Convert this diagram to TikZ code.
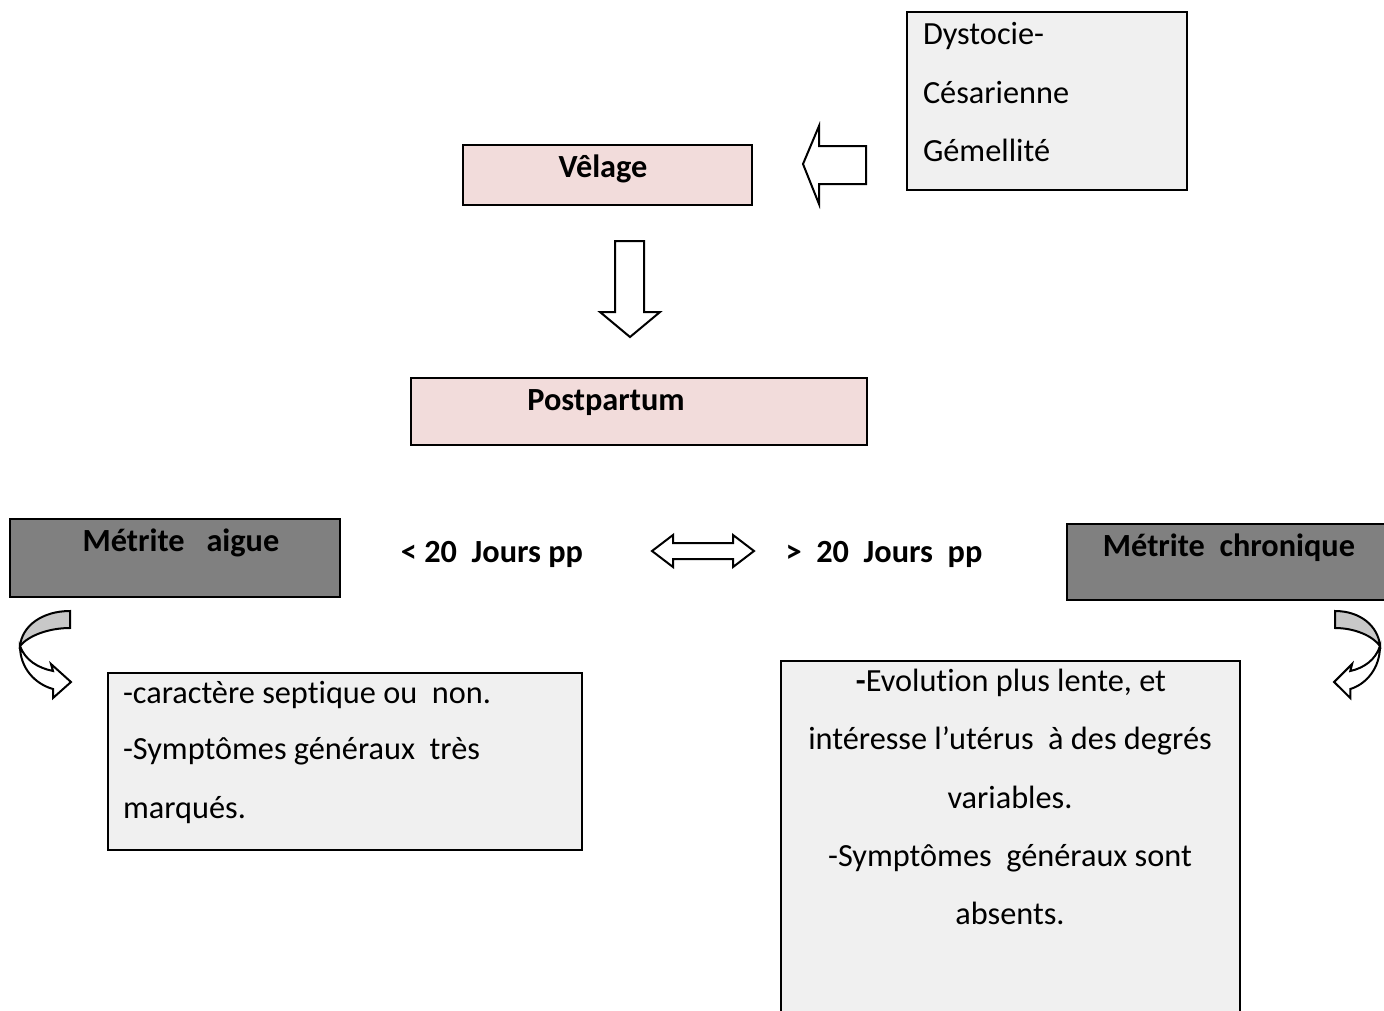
\documentclass[tikz,border=0pt]{standalone}
\usepackage{fontspec}
\setmainfont[Ligatures=NoCommon]{Carlito}
\definecolor{pinkfill}{HTML}{F2DCDB}
\definecolor{darkfill}{HTML}{808080}
\definecolor{lightfill}{HTML}{F0F0F0}
\definecolor{bandgray}{HTML}{C8C8C8}
\begin{document}
\begin{tikzpicture}[x=1pt,y=-1pt,
  every node/.style={font=\fontsize{32.3}{38}\selectfont, inner sep=0pt, outer sep=0pt},
  box/.style={draw=black, line width=2.4pt, anchor=north west},
  pinkbox/.style={box, fill=pinkfill},
  darkbox/.style={box, fill=darkfill},
  lightbox/.style={box, fill=lightfill},
  blockarrow/.style={draw=black, line width=2pt, fill=white, line join=miter},
  boldtxt/.style={font=\fontsize{32.3}{38}\selectfont\bfseries, anchor=base},
  lefttxt/.style={anchor=base west},
  ctrtxt/.style={anchor=base}]
\clip (0,0) rectangle (1384,1010);
\fill[white] (0,0) rectangle (1384,1010);

% boxes
\node[lightbox, minimum width=280, minimum height=178] (causes) at (907,12) {};
\node[pinkbox, minimum width=289, minimum height=60] (velage) at (463,145) {};
\node[pinkbox, minimum width=456, minimum height=67] (postpartum) at (411,378) {};
\node[darkbox, minimum width=330, minimum height=78] (aigue) at (10,519) {};
\node[darkbox, minimum width=340, minimum height=76] (chronique) at (1067,524) {};
\node[lightbox, minimum width=474, minimum height=177] (aiguetxt) at (108,673) {};
\node[lightbox, minimum width=459, minimum height=420] (chrontxt) at (781,661) {};

% texts
\node[lefttxt] (t1) at (923,44) {Dystocie-};
\node[lefttxt] (t2) at (923,103) {Césarienne};
\node[lefttxt] (t3) at (923,161) {Gémellité};
\node[boldtxt] (t4) at (603,177) {Vêlage};
\node[boldtxt] (t5) at (606,410) {Postpartum};
\node[boldtxt] (t6) at (181,551) {Métrite\ \ \ aigue};
\node[boldtxt] (t7) at (1229,556) {Métrite\ \ chronique};
\node[boldtxt] (t8) at (492,562) {<\ 20\ \ Jours pp};
\node[boldtxt] (t9) at (884,562) {>\ \ 20\ \ Jours\ \ pp};
\node[lefttxt] (t10) at (123,703) {-caractère septique ou\ \ non.};
\node[lefttxt] (t11) at (123,759) {-Symptômes généraux\ \ très};
\node[lefttxt] (t12) at (123,818) {marqués.};
\node[ctrtxt] (t13) at (1011,691) {\textbf{-}Evolution plus lente, et};
\node[ctrtxt] (t14) at (1010,749) {intéresse l’utérus\ \ à des degrés};
\node[ctrtxt] (t15) at (1010,808) {variables.};
\node[ctrtxt] (t16) at (1010,866) {-Symptômes\ \ généraux sont};
\node[ctrtxt] (t17) at (1010,924) {absents.};

% block arrows
\draw[blockarrow] (866,146) -- (819,146) -- (819,126) -- (803,164) -- (819,204) -- (819,184) -- (866,184) -- cycle;
\draw[blockarrow] (615,241) -- (644,241) -- (644,312) -- (660,312) -- (630,337) -- (600,312) -- (615,312) -- cycle;
\draw[blockarrow] (652,551) -- (673,535) -- (673,543) -- (733,543) -- (733,535) -- (754,551) -- (733,567) -- (733,559) -- (673,559) -- (673,567) -- cycle;

% curved arrows
\begin{scope}[shift={(70,611)}]
  \draw[blockarrow, fill=bandgray] (0,0) .. controls (-28,0) and (-48,15) .. (-50,35) .. controls (-42,25) and (-22,17) .. (0,17) -- cycle;
  \draw[blockarrow] (-50,35) .. controls (-50,57) and (-35,73) .. (-17,78) -- (-17,87) -- (1,71) -- (-19,53) -- (-17,60) .. controls (-32,57) and (-45,49) .. (-50,35) -- cycle;
\end{scope}
\begin{scope}[shift={(1335,611)}, xscale=-0.9]
  \draw[blockarrow, fill=bandgray] (0,0) .. controls (-28,0) and (-48,15) .. (-50,35) .. controls (-42,25) and (-22,17) .. (0,17) -- cycle;
  \draw[blockarrow] (-50,35) .. controls (-50,57) and (-35,73) .. (-17,78) -- (-17,87) -- (1,71) -- (-19,53) -- (-17,60) .. controls (-32,57) and (-45,49) .. (-50,35) -- cycle;
\end{scope}
\end{tikzpicture}
\end{document}
